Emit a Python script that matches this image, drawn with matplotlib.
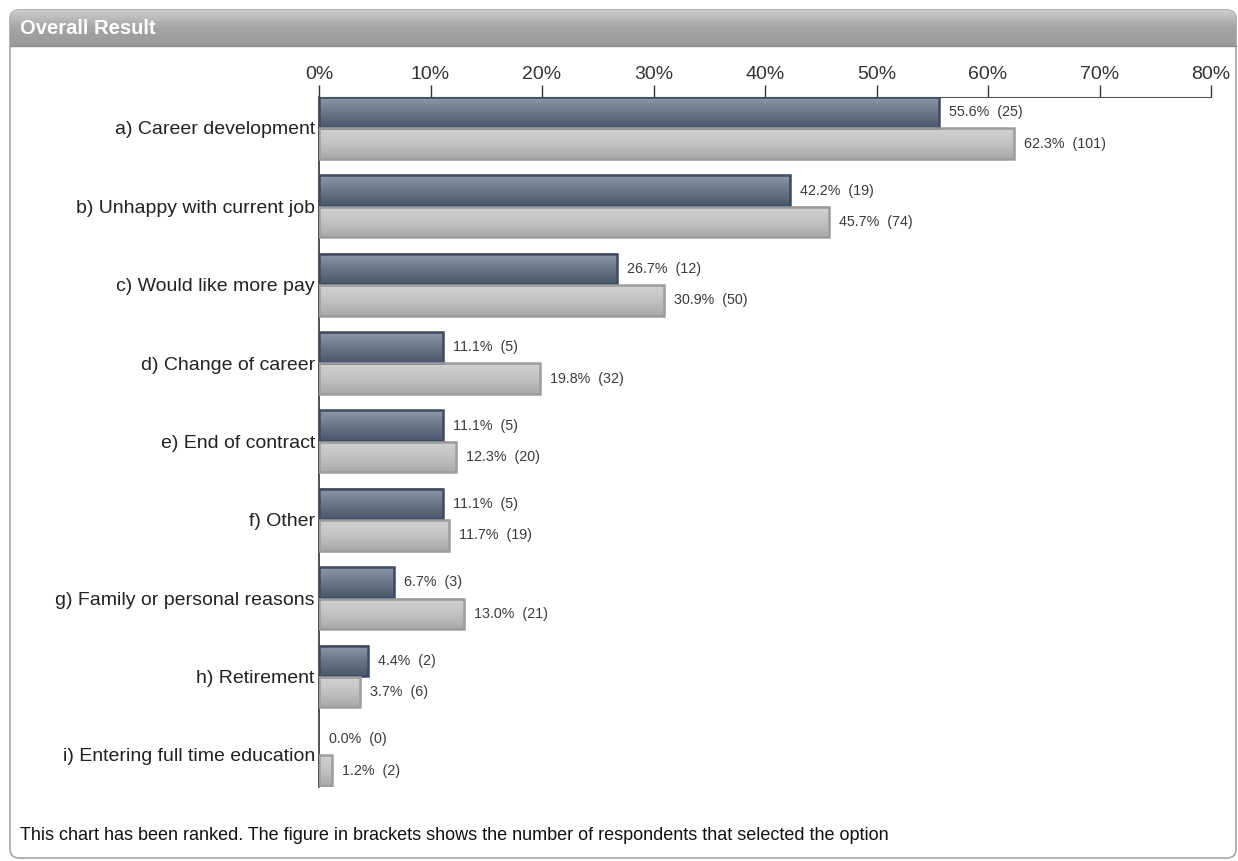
import matplotlib.pyplot as plt
import numpy as np
from matplotlib.patches import FancyBboxPatch

plt.rcParams['font.family'] = ['Liberation Sans', 'DejaVu Sans']

CATEGORIES = [
    'a) Career development',
    'b) Unhappy with current job',
    'c) Would like more pay',
    'd) Change of career',
    'e) End of contract',
    'f) Other',
    'g) Family or personal reasons',
    'h) Retirement',
    'i) Entering full time education',
]
GROUP_PCT = [55.6, 42.2, 26.7, 11.1, 11.1, 11.1, 6.7, 4.4, 0.0]
GROUP_N = [25, 19, 12, 5, 5, 5, 3, 2, 0]
ALL_PCT = [62.3, 45.7, 30.9, 19.8, 12.3, 11.7, 13.0, 3.7, 1.2]
ALL_N = [101, 74, 50, 32, 20, 19, 21, 6, 2]
X_TICKS = [0, 10, 20, 30, 40, 50, 60, 70, 80]

W, H = 1238, 861
fig = plt.figure(figsize=(W / 100, H / 100), dpi=100)

# frame panel in pixel units
bg = fig.add_axes([0, 0, 1, 1])
bg.set_xlim(0, W)
bg.set_ylim(H, 0)
bg.axis('off')
panel = FancyBboxPatch((10, 10), 1226, 848, boxstyle='round,pad=0,rounding_size=9',
                       facecolor='white', edgecolor='#a6a6a6', linewidth=1.2, zorder=1)
bg.add_patch(panel)
head = np.linspace(0, 1, 64).reshape(-1, 1)
hdr = bg.imshow(head, cmap=plt.matplotlib.colors.LinearSegmentedColormap.from_list(
    'hdr', ['#cdcdcd', '#a4a4a4', '#9a9a9a']), extent=(10, 1236, 46, 10),
    aspect='auto', zorder=2)
hdr.set_clip_path(panel)
bg.plot([10, 1236], [46, 46], color='#8c8c8c', lw=1, zorder=3)
bg.text(20, 28, 'Overall Result', color='white', fontsize=14.5, fontweight='bold',
        va='center', ha='left', zorder=4)
bg.text(20, 836, 'This chart has been ranked. The figure in brackets shows the number of '
        'respondents that selected the option', fontsize=13, color='#111111',
        va='center', ha='left', zorder=4)

# bar chart
ax = fig.add_axes([319 / W, 1 - 787 / H, (1211 - 319) / W, (787 - 97) / H])
ax.patch.set_alpha(0)
ax.set_xlim(0, 80)
ax.set_ylim(8.41, -0.395)

bar_h = 0.39
off = 0.2
dark_cmap = plt.matplotlib.colors.LinearSegmentedColormap.from_list(
    'dark', ['#8e98a8', '#6b7689', '#4a566b'])
grey_cmap = plt.matplotlib.colors.LinearSegmentedColormap.from_list(
    'grey', ['#d2d2d2', '#c2c2c2', '#a9a9a9'])
grad = np.linspace(0, 1, 64).reshape(-1, 1)

y = np.arange(len(CATEGORIES))
for i in y:
    for val, n, dy, cmap, ec in [
        (GROUP_PCT[i], GROUP_N[i], -off, dark_cmap, '#3e4a60'),
        (ALL_PCT[i], ALL_N[i], off, grey_cmap, '#9c9c9c'),
    ]:
        yc = i + dy
        if val > 0:
            ax.imshow(grad, cmap=cmap, extent=(0, val, yc + bar_h / 2, yc - bar_h / 2),
                      aspect='auto', zorder=2)
            ax.barh(yc, val, height=bar_h, facecolor='none', edgecolor=ec,
                    linewidth=1.8, zorder=3)
        ax.text(val + 0.9, yc, f'{val:.1f}%  ({n})', fontsize=10.3, color='#3a3a3a',
                va='center', ha='left')

ax.set_yticks(y)
ax.set_yticklabels(CATEGORIES, fontsize=14, color='#222222')
ax.tick_params(axis='y', length=0, pad=3)
ax.xaxis.tick_top()
ax.set_xticks(X_TICKS)
ax.set_xticklabels([f'{t}%' for t in X_TICKS], fontsize=14, color='#333333')
ax.tick_params(axis='x', direction='out', length=9, width=1, color='#333333', pad=1)
for s in ['right', 'bottom']:
    ax.spines[s].set_visible(False)
ax.spines['top'].set_color('#555555')
ax.spines['left'].set_color('#333333')
ax.spines['left'].set_linewidth(1.2)

fig.savefig('out.png', dpi=100)
